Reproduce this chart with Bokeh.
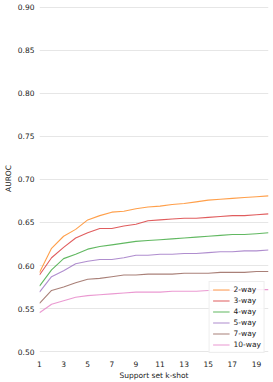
from bokeh.plotting import figure
from bokeh.models import Range1d, FixedTicker, Legend, LegendItem, CustomJSTickFormatter
from bokeh.embed import file_html
from bokeh.resources import INLINE

shots = list(range(1, 21))
way_labels = ["2-way", "3-way", "4-way", "5-way", "7-way", "10-way"]
auroc_2way = [0.592, 0.620, 0.634, 0.642, 0.653, 0.658, 0.662, 0.663, 0.666, 0.668,
              0.669, 0.671, 0.672, 0.674, 0.676, 0.677, 0.678, 0.679, 0.680, 0.681]
auroc_3way = [0.589, 0.609, 0.621, 0.632, 0.638, 0.643, 0.643, 0.646, 0.648, 0.652,
              0.653, 0.654, 0.655, 0.655, 0.656, 0.657, 0.658, 0.658, 0.659, 0.660]
auroc_4way = [0.576, 0.595, 0.608, 0.613, 0.619, 0.622, 0.624, 0.626, 0.628, 0.629,
              0.630, 0.631, 0.632, 0.633, 0.634, 0.635, 0.636, 0.636, 0.637, 0.638]
auroc_5way = [0.569, 0.587, 0.594, 0.602, 0.605, 0.607, 0.607, 0.609, 0.612, 0.612,
              0.613, 0.613, 0.614, 0.614, 0.615, 0.616, 0.616, 0.617, 0.617, 0.618]
auroc_7way = [0.556, 0.571, 0.575, 0.580, 0.584, 0.585, 0.587, 0.589, 0.589, 0.590,
              0.590, 0.590, 0.591, 0.591, 0.591, 0.592, 0.592, 0.592, 0.593, 0.593]
auroc_10way = [0.545, 0.555, 0.559, 0.563, 0.565, 0.566, 0.567, 0.568, 0.569, 0.569,
               0.569, 0.570, 0.570, 0.570, 0.571, 0.571, 0.571, 0.571, 0.572, 0.572]
series = [auroc_2way, auroc_3way, auroc_4way, auroc_5way, auroc_7way, auroc_10way]
colors = ["#ff7f0e", "#d62728", "#2ca02c", "#9467bd", "#8c564b", "#e377c2"]
x_ticks = list(range(1, 20, 2))
y_ticks = [0.50, 0.55, 0.60, 0.65, 0.70, 0.75, 0.80, 0.85, 0.90]

FONT = "DejaVu Sans"

p = figure(width=273, height=382, output_backend="svg", toolbar_location=None,
           x_range=Range1d(1, 20), y_range=Range1d(0.4942, 0.9081),
           min_border_top=0, min_border_right=5, min_border_left=34,
           min_border_bottom=26)
p.outline_line_color = None
p.background_fill_color = "white"

items = []
for lab, ys, c in zip(way_labels, series, colors):
    r = p.line(shots, ys, line_color=c, line_width=1.1, line_alpha=0.75)
    items.append(LegendItem(label=lab, renderers=[r]))

for ax in (p.xaxis[0], p.yaxis[0]):
    ax.axis_line_color = None
    ax.major_tick_line_color = None
    ax.minor_tick_line_color = None
    ax.major_label_text_font = FONT
    ax.major_label_text_font_size = "7.5px"
    ax.major_label_text_color = "#222222"
    ax.axis_label_text_font = FONT
    ax.axis_label_text_font_size = "7.5px"
    ax.axis_label_text_font_style = "normal"
    ax.axis_label_text_color = "#222222"
    ax.major_tick_out = 0
    ax.major_tick_in = 0

p.xaxis.ticker = FixedTicker(ticks=x_ticks)
p.yaxis.ticker = FixedTicker(ticks=y_ticks)
p.yaxis.formatter = CustomJSTickFormatter(code="return tick.toFixed(2);")
p.xaxis.axis_label = "Support set k-shot"
p.yaxis.axis_label = "AUROC"
p.xaxis.major_label_standoff = 4
p.yaxis.major_label_standoff = 5
p.xaxis.axis_label_standoff = 1
p.yaxis.axis_label_standoff = 2

p.xgrid.grid_line_color = None
p.ygrid.grid_line_color = "#e6e6e6"
p.ygrid.grid_line_width = 1.2

legend = Legend(items=items, location="bottom_right")
legend.label_text_font = FONT
legend.label_text_font_size = "7.5px"
legend.label_text_color = "#222222"
legend.label_height = 9
legend.glyph_height = 9
legend.glyph_width = 17
legend.spacing = 2
legend.padding = 3
legend.margin = 3
legend.label_standoff = 4
legend.border_line_color = "#dddddd"
legend.border_line_width = 1
legend.background_fill_alpha = 0.85
p.add_layout(legend)

open("out.html", "w").write(file_html(p, INLINE))
